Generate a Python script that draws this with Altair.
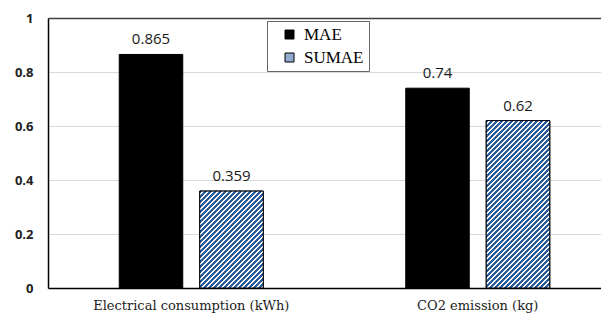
import math
import altair as alt
import pandas as pd

categories = ["Electrical consumption (kWh)", "CO2 emission (kg)"]
series = ["MAE", "SUMAE"]
mae_values = [0.865, 0.74]
sumae_values = [0.359, 0.62]

rows = []
for c, m, s in zip(categories, mae_values, sumae_values):
    rows.append({"category": c, "series": "MAE", "value": m})
    rows.append({"category": c, "series": "SUMAE", "value": s})
df = pd.DataFrame(rows)

# layout / style constants
PLOT_W = 553
PLOT_H = 270
X_RANGE = 573
PAD_IN = 0.211
PAD_OUT = 0.885
BLUE = "#2b5c9c"

step = (X_RANGE / 2) / (2 - PAD_IN + 2 * PAD_OUT)
bar_w = step * (1 - PAD_IN)


def hatch(value, period=5 / math.sqrt(2), frac=0.45):
    w = bar_w
    h = value * PLOT_H
    span = (w + h) / math.sqrt(2)
    n = math.ceil(span / period)
    k = n * period / span
    x2 = k * w * (w + h) / (w * w + h * h)
    y2 = k * h * (w + h) / (w * w + h * h)
    stops = []
    for i in range(n):
        a = i / n
        b = (i + frac) / n
        c = (i + 1) / n
        stops += [
            {"offset": a, "color": BLUE},
            {"offset": b, "color": BLUE},
            {"offset": b, "color": "#ffffff"},
            {"offset": c, "color": "#ffffff"},
        ]
    return {"gradient": "linear", "x1": 0, "y1": 0, "x2": x2, "y2": y2, "stops": stops}


x_enc = alt.X(
    "category:N",
    scale=alt.Scale(domain=categories, range=[0, X_RANGE], paddingInner=0, paddingOuter=0),
    sort=categories,
    axis=alt.Axis(
        title=None,
        labelAngle=0,
        ticks=False,
        tickSize=0,
        labelPadding=11,
        labelLimit=0,
        labelFont="DejaVu Serif",
        labelFontSize=13,
        labelColor="#222222",
        domainColor="#000000",
        domainWidth=1.5,
        grid=False,
    ),
)
xo_enc = alt.XOffset(
    "series:N",
    scale=alt.Scale(domain=series, paddingInner=PAD_IN, paddingOuter=PAD_OUT),
    sort=series,
)
y_enc = alt.Y(
    "value:Q",
    scale=alt.Scale(domain=[0, 1], nice=False),
    axis=alt.Axis(
        title=None,
        values=[0, 0.2, 0.4, 0.6, 0.8, 1.0],
        format="~g",
        ticks=False,
        tickSize=0,
        labelPadding=15,
        labelFont="Open Sans",
        labelFontWeight="bold",
        labelFontSize=13,
        labelColor="#222222",
        domainColor="#000000",
        domainWidth=1.5,
        gridColor={"condition": {"test": "datum.value >= 1", "value": "#404040"}, "value": "#d9d9d9"},
        gridWidth={"condition": {"test": "datum.value >= 1", "value": 1.5}, "value": 1},
    ),
)

base = alt.Chart(df)

bars = base.mark_bar(stroke="#000000", strokeWidth=1, opacity=1).encode(
    x=x_enc,
    xOffset=xo_enc,
    y=y_enc,
    color=alt.Color(
        "series:N",
        scale=alt.Scale(domain=series, range=["#000000", "#8fabd2"]),
        legend=alt.Legend(
            title=None,
            orient="none",
            legendX=219,
            legendY=3,
            symbolType="square",
            symbolSize=81,
            symbolStrokeColor="#000000",
            symbolStrokeWidth=1,
            symbolOpacity=1,
            symbolOffset=9,
            labelFont="Liberation Serif",
            labelFontSize=17,
            labelColor="#000000",
            labelOffset=6,
            strokeColor="#666666",
            fillColor="#ffffff",
            padding=5,
            rowPadding=5,
        ),
    ),
)

hatch_layers = []
for c, s in zip(categories, sumae_values):
    layer = (
        base.transform_filter(
            (alt.datum.series == "SUMAE") & (alt.datum.category == c)
        )
        .mark_bar(fill=hatch(s), stroke="#000000", strokeWidth=1)
        .encode(x=x_enc, xOffset=xo_enc, y=y_enc)
    )
    hatch_layers.append(layer)

labels = base.mark_text(
    baseline="alphabetic", dy=-10, font="Open Sans", fontSize=15, color="#1a1a1a"
).encode(x=x_enc, xOffset=xo_enc, y=y_enc, text=alt.Text("value:Q"))

chart = (
    alt.layer(bars, *hatch_layers, labels)
    .properties(
        width=PLOT_W,
        height=PLOT_H,
        autosize=alt.AutoSizeParams(type="none"),
        padding={"left": 40, "top": 10, "right": 0, "bottom": 30},
        background="#ffffff",
    )
    .configure_view(stroke=None)
)

chart.save("out.html", embed_options={"renderer": "svg", "actions": False})
